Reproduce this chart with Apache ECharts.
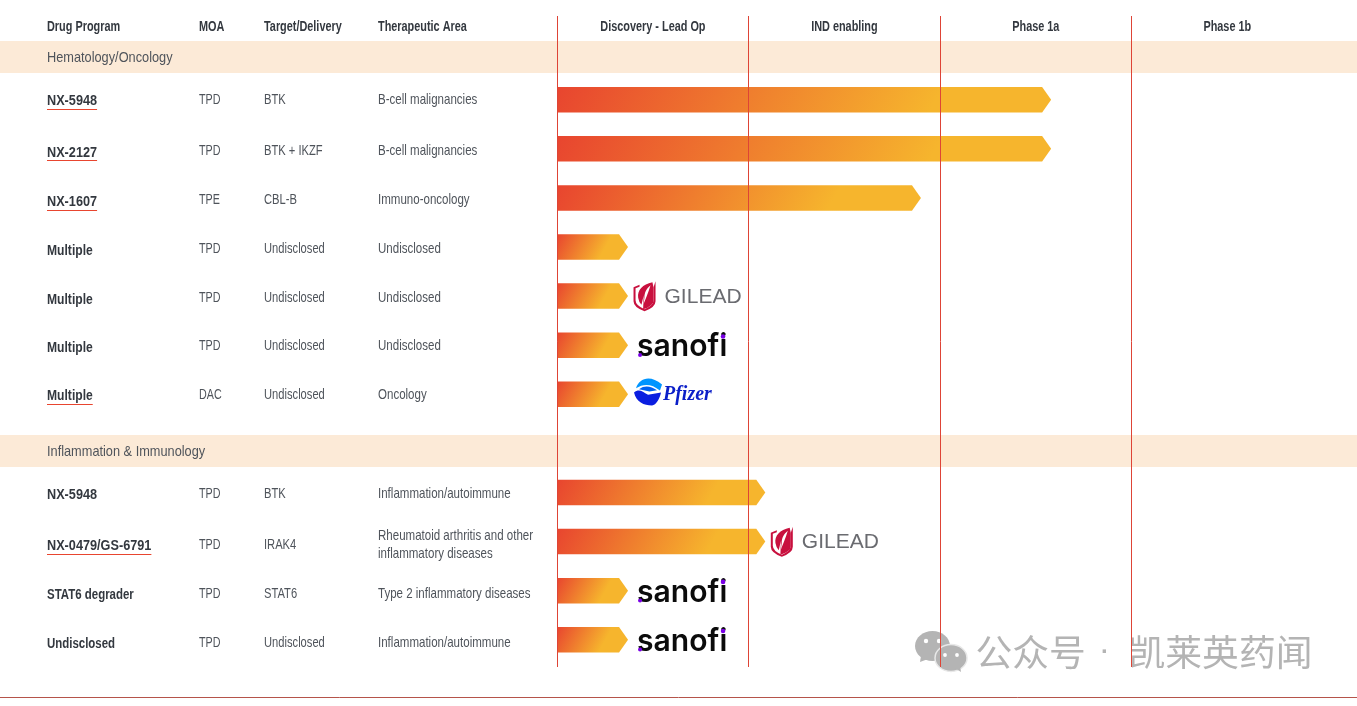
<!DOCTYPE html>
<html><head><meta charset="utf-8">
<style>html,body{margin:0;padding:0;background:#fff}#c{width:1357px;height:706px}</style>
<script src="https://cdn.jsdelivr.net/npm/echarts@6/dist/echarts.min.js"></script>
</head><body><div id="c"></div>
<script>
const tableHeaders = ['Drug Program','MOA','Target/Delivery','Therapeutic Area'];
const phases = ['Discovery - Lead Op','IND enabling','Phase 1a','Phase 1b'];
const sections = [['Hematology/Oncology',-0.875],['Inflammation & Immunology',7.15]];
const programs = ['NX-5948','NX-2127','NX-1607','Multiple','Multiple','Multiple','Multiple','','NX-5948','NX-0479/GS-6791','STAT6 degrader','Undisclosed'];
const moas = ['TPD','TPD','TPE','TPD','TPD','TPD','DAC','','TPD','TPD','TPD','TPD'];
const targets = ['BTK','BTK + IKZF','CBL-B','Undisclosed','Undisclosed','Undisclosed','Undisclosed','','BTK','IRAK4','STAT6','Undisclosed'];
const areas = ['B-cell malignancies','B-cell malignancies','Immuno-oncology','Undisclosed','Undisclosed','Undisclosed','Oncology','','Inflammation/autoimmune','Rheumatoid arthritis and other\ninflammatory diseases','Type 2 inflammatory diseases','Inflammation/autoimmune'];
const underlined = [1,1,1,0,0,0,1,0,0,1,0,0];
const stageEnds = [2.58,2.58,1.9,0.37,0.37,0.37,0.37,null,1.087,1.087,0.37,0.37];
const partners = ['','','','','Gilead','Sanofi','Pfizer','','','Gilead','Sanofi','Sanofi'];

const RED='#E8452F', YEL='#F6B52D', INK='#33383F', SOFT='#4F545B';
const SANS='"Liberation Sans",sans-serif';
const BOLD='bold 14.5px '+SANS, REG='14.5px '+SANS;
const COLS=[47,199,264,378];
const NUDGE=[0,2,2,2,2,1,0,0,1,3,3,3];
const chart=echarts.init(document.getElementById('c'),null,{renderer:'canvas'});
const mc=document.createElement('canvas').getContext('2d');
// condensed look: the installed fonts have no narrow cut, so text is squeezed horizontally
const txt=(x,y,text,font,fill,sx,align)=>({type:'text',x,y,scaleX:sx||1,style:{text,font,fill:fill||INK,align:align||'left',verticalAlign:'middle',lineHeight:18}});

function renderBand(p,api){
  const y=api.coord([0,api.value(0)])[1];
  return {type:'group',children:[
    {type:'rect',shape:{x:0,y:y-16,width:1357,height:32},style:{fill:'#FCEAD7'}},
    txt(47,y+1,sections[p.dataIndex][0],REG,SOFT,0.88)]};
}
function renderRow(p,api){
  const i=p.dataIndex, y=api.coord([0,i])[1]+NUDGE[i];
  if(!programs[i]) return {type:'group',children:[]};
  mc.font=BOLD;
  const name=programs[i];
  const sx=/^NX/.test(name)?0.875:(name==='Multiple'?0.835:0.79);
  const w=mc.measureText(name).width*sx;
  const dy=y+1.5;
  const kids=[txt(COLS[0],dy,name,BOLD,INK,sx),
    txt(COLS[1],y,moas[i],REG,SOFT,0.74),
    txt(COLS[2],y,targets[i],REG,SOFT,0.77),
    txt(COLS[3],y,areas[i],REG,SOFT,0.795)];
  if(underlined[i]) kids.push({type:'rect',shape:{x:COLS[0],y:Math.round(dy+7.9),width:w,height:1},style:{fill:RED}});
  return {type:'group',children:kids};
}
function renderHeader(p,api){
  const y=api.coord([0,api.value(0)])[1]+1.5, kids=[];
  tableHeaders.forEach((t,k)=>kids.push(txt(COLS[k],y,t,BOLD,INK,0.75)));
  phases.forEach((t,k)=>kids.push(txt(api.coord([k+0.5,0])[0],y,t,BOLD,INK,0.75,'center')));
  return {type:'group',children:kids};
}
function renderBar(p,api){
  const v=api.value(0), i=api.value(1);
  const a=api.coord([0,i]), b=api.coord([v,i]), h=12.75, cy=a[1]-0.25, notch=9;
  const W=b[0]-a[0], vx=0.6*W, vy=vx*0.55;
  return {type:'polygon',shape:{points:[[a[0],cy-h],[b[0]-notch,cy-h],[b[0],cy],[b[0]-notch,cy+h],[a[0],cy+h]]},
    style:{fill:new echarts.graphic.LinearGradient(a[0],cy-h,a[0]+vx,cy-h+vy,[{offset:0,color:RED},{offset:1,color:YEL}],true)}};
}
const path=(d,x,y,w,h,style)=>({type:'path',shape:{pathData:d,x,y,width:w,height:h,layout:'cover'},style});
function logoGilead(x,y){
  const t=txt(x+31,y+0.5,'GILEAD','21px '+SANS,'#6A6B70');
  t.style.letterSpacing=3;
  return [
    path('M0 6 L6 3.5 L6 5.5 L2 7 L2 19 Q2 24 11 28 Q20 24 20 19 L20 6 L22 0 L22 20 Q22 26 11 30 Q0 26 0 20 Z',x,y-15,22,30,{fill:'#C8103E'}),
    path('M19 1 C10 3 5 9 6 16 Q6.5 20 9 23 L11 14 L10.5 27.5 Q20 24 20 19 L20 6 Z',x+4.5,y-14,15.5,27,{fill:'#C8103E'}),
    path('M16 0 C11 4 9 8 9 13 L8 20 C10 15 13 9 16 0 Z',x+10,y-11,7,19,{fill:'#fff'}),
    t];
}
function logoSanofi(x,y){
  return [
    {type:'text',x:x,y:y+1,scaleX:0.97,style:{text:'sanofi',font:'600 31px Inter',fill:'#0b0b0b',align:'left',verticalAlign:'middle'}},
    {type:'circle',shape:{cx:x+3,cy:y+9,r:2},style:{fill:'#7A00E6'}},
    {type:'circle',shape:{cx:x+86,cy:y-9.5,r:2.3},style:{fill:'#7A00E6'}},
  ];
}
function logoPfizer(x,y){
  return [
    path('M3 10 C6 2 16 -2 28 7 L26 12 C18 6 10 6 3 10 Z',x+2,y-14,26,12,{fill:'#0095FF'}),
    path('M5 12 C12 8 18 10 24 13 L16 14 Z',x+5,y-6,18,5,{fill:'#0060F0'}),
    path('M0 15 C5 11 8 14 14 17 L27 15 C26 20 22 27 18 27 C10 27 2 24 0 15Z',x,y-2,27,15,{fill:'#0A1EE0'}),
    {type:'text',x:x+29,y:y+2,scaleX:0.95,style:{text:'Pfizer',font:'italic bold 21px "Liberation Serif"',fill:'#0A1EC8',align:'left',verticalAlign:'middle'}},
  ];
}
function renderLogo(p,api){
  const i=p.dataIndex, name=partners[i];
  if(!name) return {type:'group',children:[]};
  const c=api.coord([stageEnds[i],i]), x=c[0];
  const kids = name==='Gilead'?logoGilead(x+5.5,c[1]) : name==='Sanofi'?logoSanofi(x+9,c[1]+0.5) : logoPfizer(x+6,c[1]-2);
  return {type:'group',children:kids};
}
const rowIdx=programs.map((_,i)=>[i]);
const WM='#B4B4B4', WMF='36.8px "Noto Sans CJK SC"';
chart.setOption({
  animation:false,
  grid:{left:0,right:0,top:16,bottom:39},
  xAxis:{type:'value',min:-2.9104,max:4.1776,show:false},
  yAxis:{type:'value',inverse:true,min:-1.711,max:11.55,show:false},
  graphic:[
    {type:'line',z:1,shape:{x1:0,y1:697.5,x2:1357,y2:697.5},style:{stroke:'#B5544A',lineWidth:1}},
    {type:'group',z:1,silent:true,children:[
      {type:'ellipse',z:1,shape:{cx:932.5,cy:646,rx:17.5,ry:15},style:{fill:WM}},
      {type:'polygon',z:1,shape:{points:[[921,656],[920,662],[928,659]]},style:{fill:WM}},
      {type:'ellipse',z:1,shape:{cx:951,cy:658,rx:16,ry:13.5},style:{fill:WM,stroke:'#E8E8E8',lineWidth:1.5}},
      {type:'polygon',z:1,shape:{points:[[955,668],[961,672],[960,666]]},style:{fill:WM}},
      {type:'circle',z:1,shape:{cx:926,cy:641,r:2.2},style:{fill:'#fff'}},
      {type:'circle',z:1,shape:{cx:939,cy:641,r:2.2},style:{fill:'#fff'}},
      {type:'circle',z:1,shape:{cx:945,cy:655,r:1.9},style:{fill:'#fff'}},
      {type:'circle',z:1,shape:{cx:957,cy:655,r:1.9},style:{fill:'#fff'}},
      {type:'text',z:1,x:975.5,y:652,style:{text:'公众号',font:WMF,fill:WM,align:'left',verticalAlign:'middle'}},
      {type:'text',z:1,x:1105,y:652,style:{text:'·',font:'bold 24px '+SANS,fill:WM,align:'center',verticalAlign:'middle'}},
      {type:'text',z:1,x:1128.5,y:652,style:{text:'凯莱英药闻',font:WMF,fill:WM,align:'left',verticalAlign:'middle'}},
    ]},
  ],
  series:[
    {type:'custom',z:2,clip:false,silent:true,data:sections.map(s=>[s[1]]),encode:{y:0},renderItem:renderBand},
    {type:'custom',z:3,clip:false,silent:true,data:[[-1.51]],encode:{y:0},renderItem:renderHeader},
    {type:'custom',z:3,clip:false,silent:true,data:rowIdx,encode:{y:0},renderItem:renderRow},
    {type:'custom',z:4,clip:false,silent:true,
      data:stageEnds.map((v,i)=>v==null?null:[v,i]).filter(Boolean),encode:{x:0,y:1},renderItem:renderBar,
      markLine:{silent:true,symbol:'none',label:{show:false},z:5,lineStyle:{color:'#DE4436',width:1,type:'solid',opacity:1},
        data:[{xAxis:0},{xAxis:1},{xAxis:2},{xAxis:3}]}},
    {type:'custom',z:6,clip:false,silent:true,data:rowIdx,encode:{y:0},renderItem:renderLogo},
  ]
});
</script></body></html>
